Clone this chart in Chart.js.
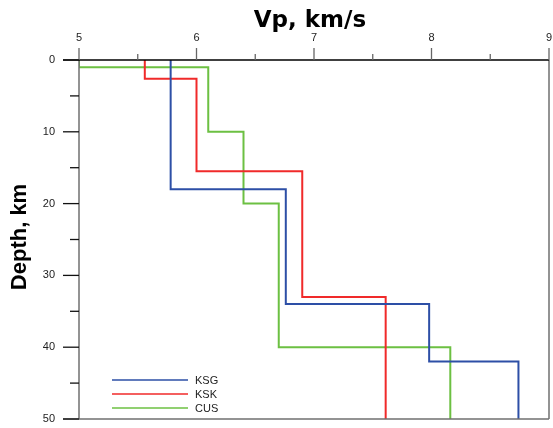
<!DOCTYPE html>
<html><head><meta charset="utf-8">
<script src="https://cdn.jsdelivr.net/npm/chart.js@4/dist/chart.umd.min.js"></script>
<style>html,body{margin:0;padding:0;background:#fff}#wrap{width:553px;height:428px}</style>
</head><body><div id="wrap"><canvas id="c" width="553" height="428"></canvas></div>
<script>
// Layer data: velocity (km/s) and layer-top depth (km); last layer extends to bottom depth
const seriesNames = ['KSG', 'KSK', 'CUS'];
const ksgVp   = [5.78, 6.76, 7.98, 8.74];
const ksgTop  = [0, 18, 34, 42];
const kskVp   = [5.56, 6.0, 6.9, 7.61];
const kskTop  = [0, 2.6, 15.5, 33];
const cusVp   = [5.0, 6.1, 6.4, 6.7, 8.16];
const cusTop  = [0, 1, 10, 20, 40];
const maxDepth = 50;
const xTickLabels = ['5', '6', '7', '8', '9'];
const yTickLabels = ['0', '10', '20', '30', '40', '50'];
const colors = ['#2d4fa6', '#f02a2a', '#6cc042'];

function profile(vp, top) {
  const pts = [];
  for (let i = 0; i < vp.length; i++) {
    const bottom = i + 1 < top.length ? top[i + 1] : maxDepth;
    pts.push({x: vp[i], y: top[i]});
    pts.push({x: vp[i], y: bottom});
  }
  return pts;
}
const series = [[ksgVp, ksgTop], [kskVp, kskTop], [cusVp, cusTop]];

const frame = {
  id: 'frame',
  afterDatasetsDraw(chart) {
    const ctx = chart.ctx, a = chart.chartArea;
    const xs = chart.scales.x, ys = chart.scales.y;
    ctx.save();
    ctx.lineCap = 'butt';
    ctx.strokeStyle = '#707070'; ctx.lineWidth = 1.5;
    ctx.beginPath();
    ctx.moveTo(a.left, a.top); ctx.lineTo(a.left, a.bottom);
    ctx.moveTo(a.right, a.top); ctx.lineTo(a.right, a.bottom);
    ctx.moveTo(63, a.bottom); ctx.lineTo(a.right, a.bottom);
    ctx.stroke();
    ctx.strokeStyle = '#000'; ctx.lineWidth = 1.5;
    ctx.beginPath(); ctx.moveTo(63, a.top); ctx.lineTo(a.right, a.top); ctx.stroke();
    ctx.lineWidth = 1.3;
    for (let v = 5; v <= 9.001; v += 0.5) {
      const px = xs.getPixelForValue(v);
      const major = Math.abs(v - Math.round(v)) < 1e-6;
      ctx.strokeStyle = '#666';
      ctx.beginPath(); ctx.moveTo(px, a.top); ctx.lineTo(px, a.top - (major ? 12 : 6)); ctx.stroke();
    }
    for (let d = 0; d <= 50; d += 5) {
      const py = ys.getPixelForValue(d);
      const major = d % 10 === 0;
      ctx.strokeStyle = '#111';
      ctx.beginPath(); ctx.moveTo(a.left, py); ctx.lineTo(a.left - (major ? 16 : 9), py); ctx.stroke();
    }
    ctx.fillStyle = '#222';
    ctx.font = '11px "Liberation Sans", Arial, sans-serif';
    ctx.textAlign = 'center'; ctx.textBaseline = 'middle';
    xTickLabels.forEach(t => ctx.fillText(t, xs.getPixelForValue(+t), 38));
    ctx.textAlign = 'right';
    yTickLabels.forEach(t => ctx.fillText(t, 55, ys.getPixelForValue(+t)));
    ctx.fillStyle = '#000';
    ctx.font = 'bold 23px "DejaVu Sans", sans-serif';
    ctx.textAlign = 'center'; ctx.textBaseline = 'alphabetic';
    ctx.fillText('Vp, km/s', 310, 27);
    ctx.save();
    ctx.translate(26, 237); ctx.rotate(-Math.PI / 2);
    ctx.font = 'bold 22px "Liberation Sans", Arial, sans-serif';
    ctx.fillText('Depth, km', 0, 0);
    ctx.restore();
    ctx.font = '11px "Liberation Sans", Arial, sans-serif';
    ctx.textAlign = 'left'; ctx.textBaseline = 'middle';
    chart.data.datasets.forEach((ds, i) => {
      const y = 380 + i * 14;
      ctx.strokeStyle = ds.borderColor; ctx.lineWidth = 1.5;
      ctx.beginPath(); ctx.moveTo(112, y); ctx.lineTo(188, y); ctx.stroke();
      ctx.fillStyle = '#222';
      ctx.fillText(ds.label, 195, y + 1);
    });
    ctx.restore();
  }
};

new Chart(document.getElementById('c'), {
  type: 'scatter',
  data: {
    datasets: series.map((s, i) => ({
      label: seriesNames[i],
      data: profile(s[0], s[1]),
      showLine: true,
      borderColor: colors[i],
      backgroundColor: colors[i],
      borderWidth: 2,
      pointRadius: 0,
      tension: 0
    }))
  },
  options: {
    responsive: false,
    animation: false,
    devicePixelRatio: 1,
    layout: {padding: {left: 79, top: 60, right: 4, bottom: 9}},
    plugins: {legend: {display: false}, tooltip: {enabled: false}},
    scales: {
      x: {type: 'linear', min: 5, max: 9, display: false},
      y: {type: 'linear', min: 0, max: 50, reverse: true, display: false}
    }
  },
  plugins: [frame]
});
</script>
</body></html>
